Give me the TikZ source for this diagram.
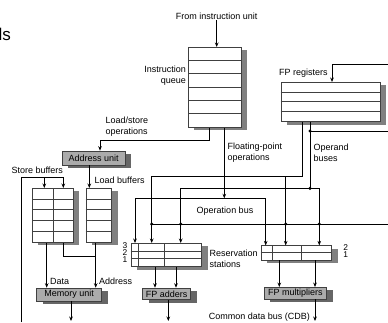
\documentclass[tikz,border=0pt]{standalone}
\usepackage{fontspec}
\setmainfont{Liberation Sans}
\usetikzlibrary{arrows.meta,shadows}

\begin{document}
\begin{tikzpicture}%
        [x=1pt, y=-1pt,
        >={Stealth[length=4.5pt,width=3.6pt]},
        every node/.style={font=\fontsize{9}{11}\selectfont},
        txt/.style={inner sep=0pt, align=left},
        num/.style={txt, align=center, font=\fontsize{8.4}{7}\selectfont},
        boxbase/.style={draw=black!75, line width=0.6pt, inner sep=0pt},
        table/.style={boxbase, fill=white,
            drop shadow={shadow xshift=6pt, shadow yshift=-3pt, fill=black!50, opacity=1}},
        unit/.style={boxbase, fill=black!33,
            drop shadow={shadow xshift=6pt, shadow yshift=-3pt, fill=black!60, opacity=1}},
        rowline/.style={draw=black!75, line width=0.6pt},
        bus/.style={line width=0.8pt},
        junction/.style={circle, fill=black, inner sep=0pt, minimum size=3.4pt}]

    \useasboundingbox (0,0) rectangle (388,322);

    %% Drawing the tables
    \node[table, minimum width=52.7pt, minimum height=80pt] (iq) at (214.7,87.3) {};
    \foreach \i in {1,...,5}
        \draw[rowline] ([yshift=-\i*13.33pt]iq.north west) -- ([yshift=-\i*13.33pt]iq.north east);
    \node[table, minimum width=99pt, minimum height=39.4pt] (fpr) at (330.5,102) {};
    \foreach \i in {1,2,3}
        \draw[rowline] ([yshift=-\i*9.85pt]fpr.north west) -- ([yshift=-\i*9.85pt]fpr.north east);
    \node[table, minimum width=41pt, minimum height=54pt] (sb) at (52.8,215.3) {};
    \foreach \i in {1,...,4}
        \draw[rowline] ([yshift=-\i*10.8pt]sb.north west) -- ([yshift=-\i*10.8pt]sb.north east);
    \draw[rowline] ([xshift=21pt]sb.north west) -- ([xshift=21pt]sb.south west);
    \node[table, minimum width=25.7pt, minimum height=54pt] (lb) at (98.85,215.3) {};
    \foreach \i in {1,...,4}
        \draw[rowline] ([yshift=-\i*10.8pt]lb.north west) -- ([yshift=-\i*10.8pt]lb.north east);
    \node[table, minimum width=70.7pt, minimum height=23.4pt] (rsa) at (166.35,255) {};
    \foreach \i in {1,2}
        \draw[rowline] ([yshift=-\i*7.8pt]rsa.north west) -- ([yshift=-\i*7.8pt]rsa.north east);
    \foreach \d in {8,34}
        \draw[rowline] ([xshift=\d pt]rsa.north west) -- ([xshift=\d pt]rsa.south west);
    \node[table, minimum width=70.7pt, minimum height=14.3pt] (rsm) at (296.35,252.85) {};
    \draw[rowline] ([yshift=-7.15pt]rsm.north west) -- ([yshift=-7.15pt]rsm.north east);
    \foreach \d in {11.7,40.7}
        \draw[rowline] ([xshift=\d pt]rsm.north west) -- ([xshift=\d pt]rsm.south west);

    %% Drawing the units
    \node[unit, minimum width=62.7pt, minimum height=14pt] (au) at (93.7,158) {Address unit};
    \node[unit, minimum width=65pt, minimum height=13pt] (mu) at (69.2,294.5) {Memory unit};
    \node[unit, minimum width=48pt, minimum height=11.5pt] (fpa) at (166.7,293.8) {FP adders};
    \node[unit, minimum width=62.7pt, minimum height=11.7pt] (fpm) at (295.35,293.2) {FP multipliers};

    %% Labels
    \node[txt, anchor=east, font=\fontsize{17}{20}\selectfont] (ttl) at (11,34) {ls};
    \node[txt] (iu) at (216.7,16.7) {From instruction unit};
    \node[txt, align=right, anchor=east] (iql) at (186,75.5) {Instruction\\queue};
    \node[txt] (fprl) at (303.3,73) {FP registers};
    \node[txt, anchor=west] (lsl) at (105.5,126.8) {Load/store\\operations};
    \node[txt, anchor=west] (fpol) at (227.5,152.3) {Floating-point\\operations};
    \node[txt, anchor=west] (opl) at (313.5,152.3) {Operand\\buses};
    \node[txt] (sbl) at (37.2,170) {Store buffers};
    \node[txt, anchor=west] (lbl) at (94.5,180.7) {Load buffers};
    \node[txt] (obusl) at (225,211) {Operation bus};
    \node[num] (ranum) at (125,252.3) {3\\2\\1};
    \node[num] (rmnum) at (345.7,251) {2\\1};
    \node[txt, anchor=west] (rsl) at (209.5,259) {Reservation\\stations};
    \node[txt, anchor=west] (datl) at (50,281) {Data};
    \node[txt, anchor=west] (adrl) at (99,281) {Address};
    \node[txt, anchor=east] (cdbl) at (310,316.7) {Common data bus (CDB)};

    %% Instruction queue paths
    \draw[bus,->] (iu.south) -- (iu.south |- iq.north);
    \coordinate (ls) at (209.3,140.7);
    \draw[bus,->] (iq.south -| ls) -- (ls) -| ([xshift=6.3pt]au.north);
    \coordinate (obl) at (135,198.3);
    \coordinate (obr) at (265.7,198.3);
    \coordinate (fpo) at (224.3,198.3);
    \draw[bus,->] (iq.south -| fpo) -- (fpo);
    \draw[bus,->] (obr) -- (obl) -- (obl |- rsa.north);
    \draw[bus,->] (obr) -- (obr |- rsm.north);

    %% Load and store buffers
    \draw[bus,->] ([xshift=-4.4pt]au.south) -- ([xshift=-4.4pt]au.south |- lb.north);
    \coordinate (sbin) at (21.7,322);
    \coordinate (sb1) at (44.3,177.3);
    \coordinate (sb2) at (63.3,177.3);
    \draw[bus] (sbin) |- (sb2);
    \draw[bus,->] (sb1) -- (sb1 |- sb.north);
    \draw[bus,->] (sb2) -- (sb2 |- sb.north);
    \coordinate (dat) at (46.7,281);
    \draw[bus,->] (sb.south -| dat) -- (dat |- mu.north);
    \coordinate (adr) at (95.7,256.7);
    \draw[bus,->] (lb.south -| adr) -- (adr |- mu.north);
    \draw[bus] (sb.south -| sb2) |- (adr);
    \coordinate (muout) at (71,321);
    \draw[bus,->] (mu.south -| muout) -- (muout);

    %% Operand buses
    \coordinate (opa) at (302.3,176);
    \coordinate (opa1) at (151.7,176);
    \coordinate (opa2) at (285.7,176);
    \draw[bus] (fpr.south -| opa) -- (opa) -- (opa1);
    \draw[bus,->] (opa1) -- (opa1 |- rsa.north);
    \draw[bus,->] (opa2) -- (opa2 |- rsm.north);
    \coordinate (opb) at (310,188.3);
    \coordinate (opb1) at (180.7,188.3);
    \coordinate (opb2) at (319.3,188.3);
    \draw[bus] (fpr.south -| opb) -- (opb);
    \draw[bus,->] (opb2) -- (opb1) -- (opb1 |- rsa.north);
    \draw[bus,->] (opb2) -- (opb2 |- rsm.north);
    \node[junction] (j-opb) at (opb) {};

    %% Functional units
    \foreach \s in {-11.7,9.3}
        \draw[bus,->] ([xshift=\s pt]fpa.north |- rsa.south) -- ([xshift=\s pt]fpa.north);
    \foreach \s in {-16.05,19.65}
        \draw[bus,->] ([xshift=\s pt]fpm.north |- rsm.south) -- ([xshift=\s pt]fpm.north);
    \coordinate (fpaout) at (168.3,321);
    \draw[bus,->] (fpa.south -| fpaout) -- (fpaout);
    \coordinate (fpmout) at (315,321);
    \draw[bus,->] (fpm.south -| fpmout) -- (fpmout);

    %% Common data bus
    \coordinate (cdb) at (388,224);
    \draw[bus] (cdb) -- (cdb -| opa1);
    \foreach \c in {opa1,opb1,opa2,opb2}
        \node[junction] (j-\c) at (cdb -| \c) {};
    \coordinate (cdbr) at (388,64);
    \draw[bus,->] (cdbr) -| ([xshift=1.5pt]fpr.north);
    \coordinate (cdbo) at (388,131);
    \draw[bus] (cdbo) -- (cdbo -| opb);
    \node[junction] (j-cdbo) at (cdbo -| opb) {};
\end{tikzpicture}
\end{document}
